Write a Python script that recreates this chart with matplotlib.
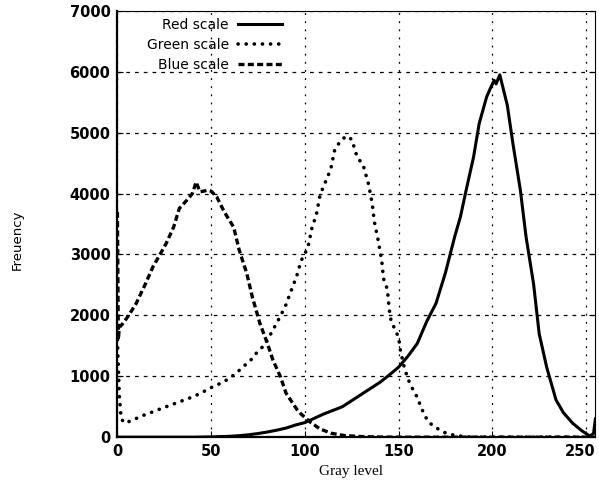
import matplotlib
matplotlib.use("Agg")
import matplotlib.pyplot as plt
from matplotlib.transforms import ScaledTranslation

# histogram samples (gray level, count)
red_x = [0, 20, 40, 50, 55, 60, 65, 70, 75, 80, 85, 90, 95, 100, 105, 110, 115, 120,
         125, 130, 135, 140, 145, 150, 155, 160, 165, 170, 175, 180, 183, 186, 190,
         193, 197, 199, 201, 202, 204, 206, 208, 211, 215, 218, 222, 225, 229, 234,
         238, 243, 248, 252, 254, 255]
red_y = [0, 0, 0, 5, 10, 15, 25, 40, 60, 85, 115, 150, 200, 240, 310, 380, 440, 500,
         600, 700, 800, 900, 1020, 1150, 1330, 1540, 1900, 2200, 2700, 3300, 3620, 4050, 4600,
         5150, 5590, 5730, 5860, 5800, 5950, 5700, 5450, 4820, 4050, 3290, 2520, 1700, 1150, 610,
         400, 225, 100, 20, 60, 300]

green_x = [0, 1, 2, 4, 8, 14, 20, 26, 33, 40, 45, 49, 54, 58, 63, 67, 71, 74, 78, 81,
           84, 87, 90, 92, 94, 96, 98, 100, 102, 104, 106, 108, 110, 112, 114, 116, 119,
           122, 125, 128, 131, 134, 136, 137, 139, 141, 142, 144, 145, 146, 148, 150, 151,
           153, 155, 158, 160, 162, 164, 166, 171, 175, 180, 185, 190, 200, 255]
green_y = [1600, 700, 300, 230, 280, 360, 430, 500, 580, 660, 730, 800, 870, 935, 1040, 1155,
           1260, 1375, 1500, 1650, 1820, 1990, 2180, 2350, 2510, 2680, 2900, 3005, 3170, 3470,
           3630, 3960, 4125, 4260, 4430, 4730, 4860, 4945, 4890, 4590, 4480, 4150, 3825, 3550,
           3250, 2900, 2600, 2430, 2100, 1910, 1775, 1640, 1420, 1150, 955, 760, 655, 490, 355,
           245, 137, 70, 30, 10, 0, 0, 0]

blue_x = [0, 0.5, 1, 3, 6, 10, 15, 19, 23, 26, 30, 33, 37, 40, 42, 44, 46, 48, 50, 53, 57,
          62, 65, 69, 72, 76, 80, 83, 87, 90, 96, 98, 103, 108, 114, 121, 130, 140, 150, 255]
blue_y = [3700, 1600, 1800, 1870, 2000, 2195, 2520, 2800, 3015, 3180, 3450, 3755, 3890, 4000,
          4190, 4030, 4040, 4055, 4040, 3945, 3700, 3450, 3070, 2690, 2300, 1870, 1540, 1265,
          990, 720, 445, 380, 245, 137, 65, 27, 10, 3, 0, 0]

xticks = [0, 50, 100, 150, 200, 250]
yticks = [0, 1000, 2000, 3000, 4000, 5000, 6000, 7000]

fig = plt.figure(figsize=(5.99, 4.94), dpi=100)
ax = fig.add_axes([0.196, 0.115, 0.798, 0.863])

ax.plot(red_x, red_y, color="black", lw=2.2, ls="-", label="Red scale")
ax.plot(green_x, green_y, color="black", lw=2.6, ls=(0, (0.05, 2.2)),
        dash_capstyle="round", label="Green scale")
ax.plot(blue_x, blue_y, color="black", lw=2.4, ls=(0, (1.8, 1.0)), label="Blue scale")

ax.set_xlim(0, 255)
ax.set_ylim(0, 7000)
ax.set_xticks(xticks)
ax.set_yticks(yticks)
ax.xaxis.grid(True, color="black", lw=0.9, ls=(0, (1.5, 5)))
ax.yaxis.grid(True, color="black", lw=0.9, ls=(0, (3, 4)))
ax.tick_params(direction="in", length=4, width=0.8, labelsize=10.5, pad=5,
               top=False, right=True)
for lab in ax.get_xticklabels() + ax.get_yticklabels():
    lab.set_fontweight("bold")
# keep the last x label inside the canvas
last = ax.get_xticklabels()[-1]
last.set_transform(last.get_transform() + ScaledTranslation(-4 / 72, 0, fig.dpi_scale_trans))

ax.spines["left"].set_linewidth(1.6)
ax.spines["bottom"].set_linewidth(1.6)
ax.spines["top"].set_linewidth(0.8)
ax.spines["right"].set_linewidth(0.8)

fig.legend(loc="upper right", bbox_to_anchor=(0.471, 0.964), frameon=False,
           markerfirst=False, fontsize=10, handlelength=3.2, handletextpad=0.65,
           labelspacing=0.45, borderpad=0, borderaxespad=0)

fig.text(351 / 599, 1 - 471 / 494, "Gray level", ha="center", va="center",
         family="Liberation Serif", fontsize=11)
fig.text(0.028, 1 - 240 / 494, "Freuency", ha="center", va="center",
         rotation=90, fontsize=9.5)

fig.savefig("out.png", dpi=100)
